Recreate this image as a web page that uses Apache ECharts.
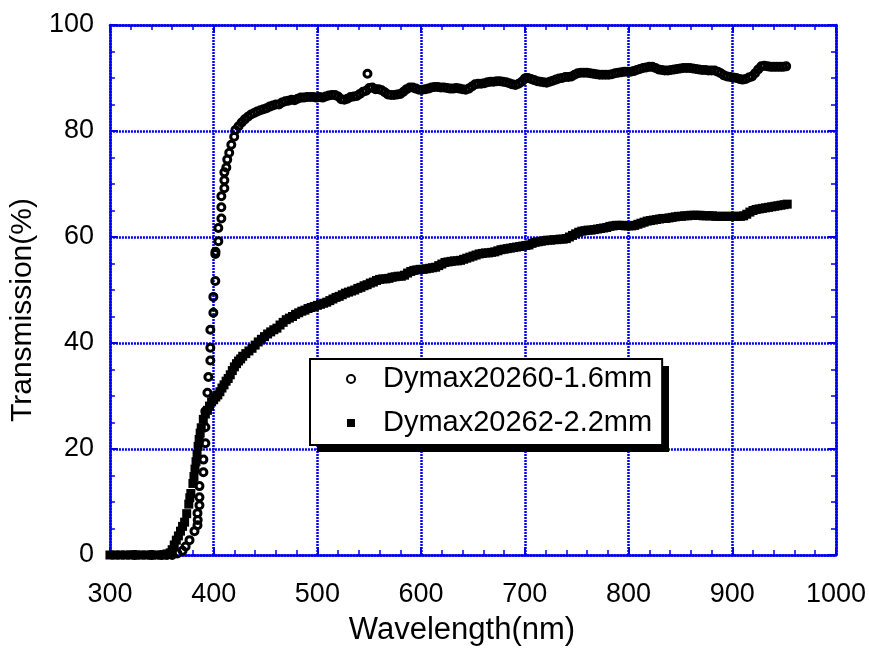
<!DOCTYPE html>
<html>
<head>
<meta charset="utf-8">
<script src="https://cdn.jsdelivr.net/npm/echarts@6/dist/echarts.min.js"></script>
<style>html,body{margin:0;padding:0;background:#fff;}#c{width:869px;height:651px;}</style>
</head>
<body>
<div id="c"></div>
<script>
// ---- data ----
const xTicks = [300, 400, 500, 600, 700, 800, 900, 1000];
const yTicks = [0, 20, 40, 60, 80, 100];
const seriesNames = ['Dymax20260-1.6mm', 'Dymax20262-2.2mm'];

// Dymax20260-1.6mm (open circles)
const wl1 = [324,340,350,355,360,365,370,373,
 376.7,381.5,384.4,384.6,384.4,386.3,386.3,386.3,390.1,390.1,392,392,392,394,394.9,396.8,396.8,396.8,399.7,399.7,401.6,401.6,401.8,404.5,404.5,407.4,407.4,407.4,410.3,410.3,410.3,412.2,413.1,415,417,419.8,
 421,424,427,430,433,436,439,442,445,448,451,454,457,460,463,466,469,472,475,478,481,484,487,490,493,496,499,
 502,505,508,511,514,517,520,523,526,529,532,535,538,541,544,547,548.3,550,553,556,559,562,565,568,571,574,577,580,583,586,589,592,595,598,
 601,604,607,610,613,616,619,622,625,628,631,634,637,640,643,646,649,652,655,658,661,664,667,670,673,676,679,682,685,688,691,694,697,700,
 703,706,709,712,715,718,721,724,727,730,733,736,739,742,745,748,751,754,757,760,763,766,769,772,775,778,781,784,787,790,793,796,799,
 802,805,808,811,814,817,820,823,826,829,832,835,838,841,844,847,850,853,856,859,862,865,868,871,874,877,880,883,886,889,892,895,898,
 901,904,907,910,913,916,919,922,925,928,931,934,937,940,943,946,949,952];
const tr1 = [0,0,0,0,0,0.3,0.8,1.6,
 2.8,4.5,5.6,6.6,7.9,9.4,10.9,13.0,15.6,18.0,21.1,24.1,27.1,30.6,33.6,36.7,39.1,42.5,45.7,48.7,51.7,56.8,57.2,59.2,61.7,63.5,65.6,67.7,69.2,70.7,72.2,73.1,74.6,75.9,77.4,78.9,
 80.2,80.9,81.6,82.2,82.7,83.1,83.4,83.7,83.9,84.1,84.3,84.6,84.8,85.0,85.0,85.4,85.6,85.7,85.9,85.8,86.1,86.3,86.3,86.4,86.4,86.4,86.3,
 86.4,86.3,86.5,86.7,86.8,86.8,86.5,86.0,85.9,86.1,86.4,86.5,86.6,87.0,87.4,87.6,90.8,88.1,88.2,87.9,87.9,87.7,87.3,86.9,86.8,86.8,86.9,87.0,87.4,87.9,88.2,88.2,88.0,87.8,
 87.8,87.9,88.0,88.2,88.3,88.3,88.2,88.2,88.1,88.0,88.0,88.1,88.0,87.9,87.8,88.0,88.4,88.8,88.9,88.9,89.0,89.2,89.3,89.3,89.4,89.4,89.3,89.2,89.0,88.8,88.7,88.9,89.3,89.9,
 90.0,89.8,89.6,89.4,89.3,89.2,89.1,89.3,89.5,89.7,89.9,90.0,90.2,90.2,90.3,90.6,90.9,91.0,91.0,91.0,90.9,90.8,90.7,90.6,90.6,90.6,90.6,90.7,90.9,91.0,91.1,91.2,91.2,
 91.2,91.3,91.5,91.7,91.9,92.0,92.1,92.1,91.9,91.6,91.5,91.4,91.4,91.5,91.6,91.7,91.8,91.9,91.9,91.9,91.8,91.7,91.6,91.5,91.5,91.4,91.4,91.4,91.2,90.9,90.5,90.3,90.2,
 90.1,90.0,89.8,89.7,89.8,90.1,90.3,90.9,91.6,92.2,92.3,92.2,92.1,92.1,92.1,92.1,92.1,92.2];

// Dymax20262-2.2mm (filled squares)
const wl2 = [300,305,310,315,320,325,330,335,340,345,350,355,358,360,362,364,366,368,370,372,374,376,377,378,380,381,382,383,384,385,386,387,388,390,392,394,396,398,
 400,402,404,406,408,410,412,414,416,418,420,422,424,426,428,431,434,437,440,443,446,449,452,455,458,461,464,467,470,473,476,479,482,485,488,491,494,497,
 500,503,506,509,512,515,518,521,524,527,530,533,536,539,542,545,548,551,554,557,560,563,566,569,572,575,578,581,584,587,590,593,596,599,
 602,605,608,611,614,617,620,623,626,629,632,635,638,641,644,647,650,653,656,659,662,665,668,671,674,677,680,683,686,689,692,695,698,
 701,704,707,710,713,716,719,722,725,728,731,734,737,740,743,746,749,752,755,758,761,764,767,770,773,776,779,782,785,788,791,794,797,
 800,803,806,809,812,815,818,821,824,827,830,833,836,839,842,845,848,851,854,857,860,863,866,869,872,875,878,881,884,887,890,893,896,899,
 902,905,908,911,914,917,920,923,926,929,932,935,938,941,944,947,950,953];
const tr2 = [0,0,0,0,0,0,0,0,0,0,0,0.2,0.4,1.0,1.9,2.8,3.6,4.5,5.4,6.2,7.8,9.6,10.8,11.6,13.5,14.8,16.2,17.6,19.0,20.5,21.8,23.0,24.0,25.6,26.6,27.3,28.1,28.9,
 29.3,29.8,30.2,30.8,31.5,32.1,32.8,33.3,34.0,34.8,35.5,36.1,36.6,37.0,37.5,38.0,38.5,39.0,39.6,40.2,40.7,41.2,41.7,42.1,42.5,42.8,43.4,43.9,44.4,44.7,45.0,45.4,45.7,46.0,46.2,46.5,46.7,46.9,
 47.1,47.3,47.5,47.7,48.0,48.3,48.6,48.8,49.1,49.4,49.6,49.8,50.0,50.3,50.5,50.8,51.0,51.3,51.5,51.8,52.0,52.1,52.1,52.2,52.4,52.5,52.6,52.6,52.8,53.2,53.5,53.7,53.8,53.9,
 53.9,54.0,54.1,54.2,54.3,54.6,54.9,55.2,55.3,55.4,55.5,55.5,55.6,55.8,56.0,56.2,56.4,56.6,56.8,56.9,57.0,57.0,57.1,57.2,57.4,57.6,57.7,57.8,57.9,58.0,58.1,58.2,58.3,
 58.4,58.5,58.8,59.0,59.1,59.2,59.3,59.4,59.4,59.5,59.5,59.6,59.6,59.7,60.0,60.3,60.6,60.9,61.1,61.2,61.3,61.3,61.4,61.5,61.6,61.7,61.8,62.0,62.1,62.2,62.2,62.2,62.1,
 62.1,62.1,62.2,62.4,62.6,62.8,63.0,63.1,63.2,63.3,63.4,63.5,63.5,63.6,63.7,63.8,63.9,63.9,64.0,64.0,64.1,64.1,64.1,64.1,64.0,64.0,64.0,64.0,63.9,63.9,63.9,63.9,63.9,63.9,
 63.9,63.9,63.9,64.0,64.3,64.7,65.0,65.2,65.3,65.4,65.5,65.6,65.7,65.8,65.9,66.0,66.1,66.2];

// ---- build chart ----
const pairs = (xs, ys) => xs.map((x, i) => [x, ys[i]]);
const BLUE = '#0000f0';
const FONT = '"Liberation Sans", Arial, sans-serif';
const plain = v => String(v);

function xAx(pos) {
  const main = pos === 'bottom';
  return {
    type: 'value', position: pos, min: xTicks[0], max: xTicks[xTicks.length - 1], interval: 100,
    axisLine: { show: true, onZero: false, lineStyle: { color: BLUE, width: 2.5 } },
    axisTick: { show: true, inside: true, length: 8, lineStyle: { color: BLUE, width: 2 } },
    minorTick: { show: true, splitNumber: 5, length: 5, lineStyle: { color: BLUE, width: 1.5 } },
    splitLine: { show: main, lineStyle: { color: BLUE, width: 2.5, type: [2, 1] } },
    axisLabel: { show: main, margin: 26, color: '#000', fontSize: 27, fontFamily: FONT, formatter: plain },
    name: main ? 'Wavelength(nm)' : '', nameLocation: 'middle', nameGap: 60,
    nameTextStyle: { color: '#000', fontSize: 31, fontFamily: FONT, padding: [0, 22, 0, 0] }
  };
}
function yAx(pos) {
  const main = pos === 'left';
  return {
    type: 'value', position: pos, min: yTicks[0], max: yTicks[yTicks.length - 1], interval: 20,
    axisLine: { show: true, onZero: false, lineStyle: { color: BLUE, width: 2.5 } },
    axisTick: { show: true, inside: true, length: 8, lineStyle: { color: BLUE, width: 2 } },
    minorTick: { show: true, splitNumber: 4, length: 5, lineStyle: { color: BLUE, width: 1.5 } },
    splitLine: { show: main, lineStyle: { color: BLUE, width: 2.5, type: [2, 1] } },
    axisLabel: { show: main, margin: 16, color: '#000', fontSize: 27, fontFamily: FONT, padding: [0, 0, 8, 0], formatter: plain },
    name: main ? 'Transmission(%)' : '', nameLocation: 'middle', nameGap: 64, nameRotate: 90,
    nameTextStyle: { color: '#000', fontSize: 30, fontFamily: FONT, padding: [0, 40, 0, 0] }
  };
}

const chart = echarts.init(document.getElementById('c'), null, { renderer: 'canvas' });
chart.setOption({
  backgroundColor: '#fff',
  animation: false,
  grid: { left: 108, right: 31, top: 25, bottom: 94, containLabel: false },
  xAxis: [xAx('bottom'), xAx('top')],
  yAxis: [yAx('left'), yAx('right')],
  graphic: {
    elements: [{
      type: 'rect', z: 3, silent: true,
      shape: { x: 317, y: 366, width: 352, height: 86 },
      style: { fill: '#000' }
    }]
  },
  legend: {
    data: seriesNames,
    orient: 'vertical',
    left: 310, top: 359,
    padding: [5, 10, 7, 36],
    itemGap: 14,
    itemWidth: 8, itemHeight: 8,
    backgroundColor: '#fff',
    borderColor: '#000', borderWidth: 2,
    z: 6,
    textStyle: { color: '#000', fontSize: 29, fontFamily: FONT, lineHeight: 30, padding: [0, 0, 0, 23] }
  },
  series: [
    {
      name: seriesNames[0], type: 'scatter', xAxisIndex: 0, yAxisIndex: 0, z: 4,
      symbol: 'circle', symbolSize: 7,
      itemStyle: { color: 'rgba(255,255,255,0)', borderColor: '#000', borderWidth: 3, opacity: 1 },
      data: pairs(wl1, tr1)
    },
    {
      name: seriesNames[1], type: 'scatter', xAxisIndex: 0, yAxisIndex: 0, z: 3,
      symbol: 'rect', symbolSize: 9,
      itemStyle: { color: '#000', opacity: 1 },
      data: pairs(wl2, tr2)
    }
  ]
});
</script>
</body>
</html>
